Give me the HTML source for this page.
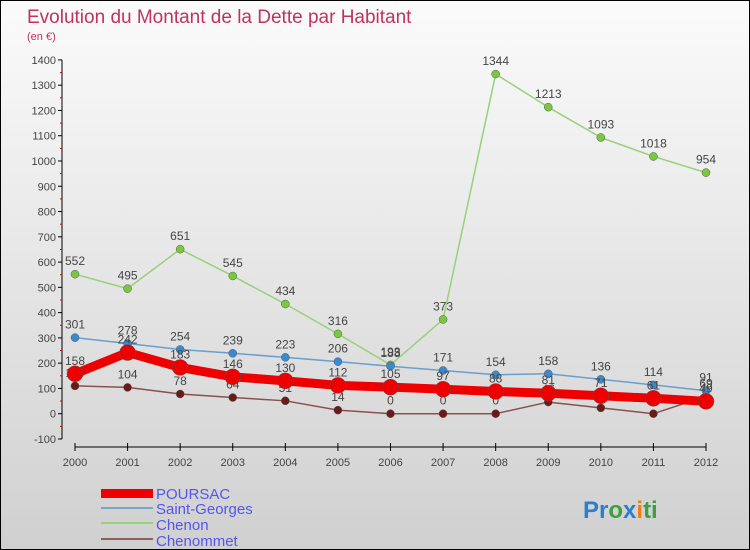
<!DOCTYPE html>
<html><head><meta charset="utf-8"><style>
body{margin:0}
#wrap{width:748px;height:548px;border:1px solid #000;position:relative;overflow:hidden;background:linear-gradient(#fbfbfb,#d0d0d0);font-family:"Liberation Sans",sans-serif}
</style></head><body>
<div id="wrap">
<svg id="svg" width="748" height="548" xmlns="http://www.w3.org/2000/svg">
<text x="26" y="22" font-size="19" fill="#c0335f">Evolution du Montant de la Dette par Habitant</text>
<text x="26" y="39" font-size="11" fill="#c0335f">(en €)</text>
<g id="axes"></g><g id="series"></g>
<g font-size="15" fill="#5555ee">
<rect x="100" y="488" width="52" height="9" fill="#ee0000"/>
<text x="155" y="498">POURSAC</text>
<rect x="100" y="506" width="52" height="2" fill="#7aa6c8"/>
<text x="155" y="513">Saint-Georges</text>
<rect x="100" y="521" width="52" height="2" fill="#99d07a"/>
<text x="155" y="529">Chenon</text>
<rect x="100" y="537" width="52" height="2" fill="#8a6060"/>
<text x="155" y="545">Chenommet</text>
</g>
<text x="582" y="517" font-size="24" font-weight="bold"><tspan fill="#2a7fd0">Pr</tspan><tspan fill="#3aa040">o</tspan><tspan fill="#2a7fd0">x</tspan><tspan fill="#f07d10">i</tspan><tspan fill="#3aa040">ti</tspan></text>
</svg></div>
<script>
const years=["2000","2001","2002","2003","2004","2005","2006","2007","2008","2009","2010","2011","2012"];
const yTicks=[-100,0,100,200,300,400,500,600,700,800,900,1000,1100,1200,1300,1400];
const poursac=[158,242,183,146,130,112,105,97,88,81,71,61,49];
const saintGeorges=[301,278,254,239,223,206,188,171,154,158,136,114,91];
const chenon=[552,495,651,545,434,316,193,373,1344,1213,1093,1018,954];
const chenommet=[110,104,78,64,51,14,0,0,0,46,23,0,69];
const NS="http://www.w3.org/2000/svg";
const xS=i=>74+i*(631/12);
const yS=v=>412.7-v*0.2527;
function mk(p,tag,a){const e=document.createElementNS(NS,tag);for(const k in a)e.setAttribute(k,a[k]);p.appendChild(e);return e;}
const ax=document.getElementById('axes');
let l=mk(ax,'line',{x1:61,y1:yS(1400),x2:61,y2:yS(-100),stroke:'#000'});


yTicks.forEach(v=>{mk(ax,'line',{x1:57,x2:61,y1:yS(v),y2:yS(v),stroke:'#000'});
const t=mk(ax,'text',{x:55,y:yS(v)+4,'font-size':11,fill:'#444','text-anchor':'end'});t.textContent=v;


if(v<1400)mk(ax,'line',{x1:59,x2:61,y1:yS(v+50),y2:yS(v+50),stroke:'#e00'});});
l=mk(ax,'line',{x1:xS(0),x2:xS(12),y1:446,y2:446,stroke:'#000'});


years.forEach((y,i)=>{mk(ax,'line',{x1:xS(i),x2:xS(i),y1:442,y2:450,stroke:'#000'});
const t=mk(ax,'text',{x:xS(i),y:465,'font-size':11,fill:'#444','text-anchor':'middle'});t.textContent=y;

});
const sg=document.getElementById('series');
function draw(name,data,color,w,r,dot,lab){
const g=mk(sg,'g',{});


mk(g,'polyline',{points:data.map((v,i)=>xS(i)+','+yS(v)).join(' '),fill:'none',stroke:color,'stroke-width':w,'stroke-linejoin':'round'});
data.forEach((v,i)=>{const c=mk(g,'circle',{cx:xS(i),cy:yS(v),r:r,fill:dot,stroke:'#555','stroke-width':0.5});


const t=mk(g,'text',{x:xS(i),y:yS(v)-9,'font-size':12,fill:'#444','text-anchor':'middle'});t.textContent=v;

});}
draw('chenommet',chenommet,'#8a5050',1.5,4,'#6a1a1a');
draw('chenon',chenon,'#99d07a',1.5,4,'#7ac840');
draw('saint-georges',saintGeorges,'#6a9ed0',1.5,4,'#3a8ad0');
draw('poursac',poursac,'#ee0000',9,8,'#ee0000');
</script>
</body></html>
